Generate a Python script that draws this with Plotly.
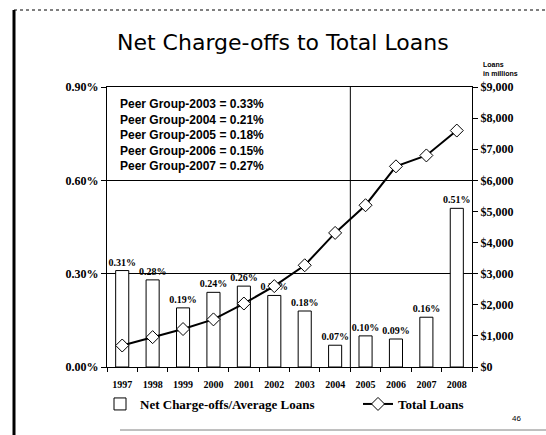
import plotly.graph_objects as go

# Net charge-offs / average loans (%) and total loans ($ millions), 1997-2008
years = ["1997", "1998", "1999", "2000", "2001", "2002",
         "2003", "2004", "2005", "2006", "2007", "2008"]
charge_off_pct = [0.31, 0.28, 0.19, 0.24, 0.26, 0.23, 0.18, 0.07, 0.10, 0.09, 0.16, 0.51]
total_loans = [690, 960, 1220, 1530, 2040, 2600, 3270, 4310, 5200, 6450, 6800, 7600]
peer_group = [("2003", "0.33%"), ("2004", "0.21%"), ("2005", "0.18%"),
              ("2006", "0.15%"), ("2007", "0.27%")]
pct_ticks = [0.0, 0.3, 0.6, 0.9]

W, H = 546, 435
L, R, T, B = 107, 74, 87, 68
PW, PH = W - L - R, H - T - B


def px(x):
    return (x - L) / PW


def py(y):
    return (H - B - y) / PH


SERIF = "Liberation Serif"
SANS = "Liberation Sans"
legend_font = dict(family=SERIF, size=13, color="black", weight="bold")

fig = go.Figure()
fig.add_trace(go.Bar(
    x=years, y=charge_off_pct, width=0.43,
    name="Net Charge-offs/Average Loans", legend="legend",
    marker=dict(color="white", line=dict(color="black", width=1)),
    text=[f"{v:.2f}%" for v in charge_off_pct], textposition="outside",
    constraintext="none",
    textfont=dict(family=SERIF, size=10, color="black", weight="bold"),
    cliponaxis=False,
))
fig.add_trace(go.Scatter(
    x=years, y=total_loans, yaxis="y2", mode="lines+markers",
    name="Total Loans", legend="legend2",
    line=dict(color="black", width=2),
    marker=dict(symbol="diamond", size=10, color="white",
                line=dict(color="black", width=1)),
))

fig.update_layout(
    width=W, height=H,
    margin=dict(l=L, r=R, t=T, b=B, autoexpand=False),
    paper_bgcolor="white", plot_bgcolor="white",
    showlegend=True,
    legend=dict(orientation="h", x=px(100), xanchor="left", y=py(404), yanchor="middle",
                font=legend_font, bgcolor="rgba(0,0,0,0)", itemwidth=30),
    legend2=dict(orientation="h", x=px(358), xanchor="left", y=py(404), yanchor="middle",
                 font=legend_font, bgcolor="rgba(0,0,0,0)", itemwidth=30),
    xaxis=dict(type="category", range=[-0.5, len(years) - 0.5],
               showline=True, linecolor="black", linewidth=1,
               mirror=True, ticks="outside", ticklen=4, tickcolor="black",
               tickson="boundaries", showgrid=False, tickangle=0, automargin=False,
               ticklabelstandoff=8,
               tickfont=dict(family=SERIF, size=10, color="black", weight="bold")),
    yaxis=dict(range=[0, 0.9], tickvals=pct_ticks,
               ticktext=[f"{v:.2f}%" for v in pct_ticks],
               showline=True, linecolor="black", linewidth=1,
               ticks="outside", ticklen=5, tickcolor="black", automargin=False,
               showgrid=True, gridcolor="black", gridwidth=1, zeroline=False,
               tickfont=dict(family=SERIF, size=12, color="black", weight="bold")),
    yaxis2=dict(range=[0, 9000], dtick=1000, overlaying="y", side="right",
                tickprefix="$", tickformat=",",
                showline=True, linecolor="black", linewidth=1, automargin=False,
                ticks="outside", ticklen=5, tickcolor="black",
                showgrid=False, zeroline=False,
                tickfont=dict(family=SERIF, size=12, color="black", weight="bold")),
)

# vertical divider between 2004 and 2005
fig.add_shape(type="line", xref="x", yref="paper", x0=7.5, x1=7.5, y0=0, y1=1,
              line=dict(color="black", width=1))

# title and small captions
fig.add_annotation(text="Net Charge-offs to Total Loans", xref="paper", yref="paper",
                   x=px(283), y=py(43), xanchor="center", yanchor="middle",
                   showarrow=False,
                   font=dict(family="DejaVu Sans", size=22, color="black"))
fig.add_annotation(text="Loans<br>in millions", xref="paper", yref="paper",
                   x=px(481), y=py(59), xanchor="left", yanchor="top", align="left",
                   showarrow=False,
                   font=dict(family=SANS, size=7, color="black", weight="bold"))
fig.add_annotation(text="<br>".join(f"Peer Group-{y} = {v}" for y, v in peer_group),
                   xref="paper", yref="paper", x=px(118), y=py(95),
                   xanchor="left", yanchor="top", align="left", showarrow=False,
                   font=dict(family=SANS, size=12, color="black", weight="bold"))
fig.add_annotation(text="46", xref="paper", yref="paper", x=px(516), y=py(418),
                   xanchor="center", yanchor="middle",
                   showarrow=False, font=dict(family=SANS, size=8, color="black"))

# slide frame
fig.add_shape(type="line", xref="paper", yref="paper", x0=px(14), x1=px(14),
              y0=py(10), y1=py(435), line=dict(color="black", width=3))
fig.add_shape(type="line", xref="paper", yref="paper", x0=px(14), x1=px(546),
              y0=py(10), y1=py(10), line=dict(color="black", width=1, dash="dot"))
fig.add_shape(type="line", xref="paper", yref="paper", x0=px(120), x1=px(546),
              y0=py(430), y1=py(430), line=dict(color="gray", width=1))

fig.write_html("out.html")
